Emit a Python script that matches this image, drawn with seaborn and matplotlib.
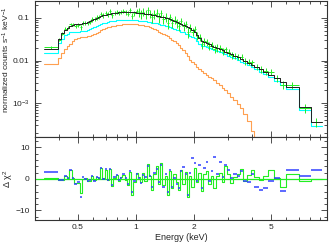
import numpy as np
import matplotlib
matplotlib.use("Agg")
import matplotlib.pyplot as plt
import seaborn as sns
from matplotlib.ticker import FixedLocator, FixedFormatter, NullFormatter, MultipleLocator

# bin edges (keV)
edges = [0.333, 0.394, 0.408, 0.423, 0.438, 0.452, 0.466, 0.48, 0.495, 0.51,
         0.525, 0.54, 0.555, 0.57, 0.586, 0.602, 0.618, 0.635, 0.652, 0.67,
         0.688, 0.706, 0.725, 0.745, 0.765, 0.785, 0.806, 0.828, 0.85, 0.873,
         0.896, 0.92, 0.945, 0.97, 0.996, 1.022, 1.05, 1.078, 1.107, 1.137,
         1.168, 1.2, 1.232, 1.265, 1.3, 1.335, 1.371, 1.408, 1.446, 1.485,
         1.525, 1.566, 1.608, 1.652, 1.697, 1.743, 1.79, 1.84, 1.89, 1.94,
         1.995, 2.05, 2.11, 2.17, 2.23, 2.3, 2.37, 2.44, 2.52, 2.6,
         2.69, 2.78, 2.88, 2.98, 3.09, 3.2, 3.33, 3.46, 3.6, 3.76,
         3.93, 4.12, 4.33, 4.57, 4.85, 5.2, 5.6, 6.0, 7.0, 8.05, 9.2]

# total model, first data set (black)
model_tot = [0.0187, 0.032, 0.044, 0.052, 0.058, 0.064, 0.068, 0.071, 0.072, 0.073,
             0.074, 0.076, 0.079, 0.084, 0.089, 0.095, 0.100, 0.105, 0.110, 0.115,
             0.119, 0.123, 0.126, 0.129, 0.131, 0.133, 0.135, 0.136, 0.137, 0.138,
             0.138, 0.137, 0.136, 0.135, 0.134, 0.133, 0.131, 0.129, 0.127, 0.125,
             0.122, 0.119, 0.116, 0.113, 0.110, 0.107, 0.104, 0.100, 0.097, 0.093,
             0.089, 0.085, 0.081, 0.077, 0.073, 0.069, 0.065, 0.061, 0.057, 0.053,
             0.048, 0.040, 0.033, 0.029, 0.027, 0.0255, 0.024, 0.0225, 0.021, 0.0197,
             0.0185, 0.0173, 0.0162, 0.0151, 0.0140, 0.0129, 0.0118, 0.0108, 0.0098, 0.0089,
             0.0080, 0.0071, 0.0063, 0.0055, 0.0047, 0.0038, 0.0031, 0.0024, 0.00081, 0.00036]

# model, second data set (cyan)
model_two = [0.0150, 0.026, 0.032, 0.040, 0.043, 0.046, 0.047, 0.048, 0.048, 0.049,
             0.049, 0.050, 0.052, 0.055, 0.058, 0.062, 0.065, 0.069, 0.072, 0.075,
             0.078, 0.081, 0.083, 0.085, 0.086, 0.088, 0.089, 0.090, 0.090, 0.091,
             0.091, 0.090, 0.090, 0.089, 0.088, 0.087, 0.086, 0.085, 0.083, 0.082,
             0.080, 0.078, 0.076, 0.074, 0.072, 0.070, 0.068, 0.066, 0.064, 0.061,
             0.058, 0.056, 0.053, 0.051, 0.048, 0.046, 0.043, 0.041, 0.038, 0.036,
             0.034, 0.029, 0.025, 0.0225, 0.0215, 0.0205, 0.0195, 0.0185, 0.0175, 0.0166,
             0.0157, 0.0148, 0.0139, 0.0130, 0.0121, 0.0112, 0.0103, 0.0094, 0.0086, 0.0078,
             0.0070, 0.0062, 0.0055, 0.0048, 0.0041, 0.0033, 0.0027, 0.0021, 0.00069, 0.000295]

# soft component (orange), first 82 bins
comp_soft = [0.0083, 0.0115, 0.0150, 0.019, 0.022, 0.025, 0.029, 0.032, 0.034, 0.035,
             0.035, 0.036, 0.037, 0.038, 0.040, 0.042, 0.045, 0.048, 0.051, 0.054,
             0.057, 0.060, 0.062, 0.064, 0.066, 0.067, 0.069, 0.070, 0.071, 0.072,
             0.072, 0.072, 0.072, 0.072, 0.071, 0.070, 0.068, 0.067, 0.065, 0.063,
             0.060, 0.058, 0.055, 0.052, 0.048, 0.045, 0.042, 0.040, 0.037, 0.034,
             0.031, 0.028, 0.026, 0.023, 0.020, 0.018, 0.015, 0.0125, 0.0105, 0.0092,
             0.0082, 0.0072, 0.0062, 0.0056, 0.0051, 0.0046, 0.0042, 0.0038, 0.0034, 0.0030,
             0.0027, 0.0023, 0.0020, 0.0017, 0.0014, 0.0012, 0.00095, 0.00075, 0.00056, 0.00038,
             0.00022, 0.00012]

# observed counts (green) and errors
data_obs = [0.0205, 0.031, 0.043, 0.056, 0.059, 0.072, 0.069, 0.066, 0.068, 0.060,
            0.075, 0.077, 0.076, 0.082, 0.093, 0.094, 0.103, 0.107, 0.126, 0.116,
            0.134, 0.121, 0.142, 0.118, 0.133, 0.140, 0.132, 0.140, 0.145, 0.136,
            0.127, 0.150, 0.112, 0.130, 0.146, 0.136, 0.125, 0.140, 0.123, 0.150,
            0.126, 0.103, 0.123, 0.133, 0.103, 0.130, 0.095, 0.105, 0.077, 0.104,
            0.077, 0.091, 0.077, 0.066, 0.083, 0.065, 0.072, 0.047, 0.059, 0.048,
            0.055, 0.038, 0.036, 0.025, 0.028, 0.0275, 0.0225, 0.023, 0.019, 0.020,
            0.0195, 0.0168, 0.0182, 0.0157, 0.0135, 0.0131, 0.0124, 0.0121, 0.0096, 0.0093,
            0.0090, 0.0072, 0.0062, 0.0057, 0.0054, 0.0039, 0.0027, 0.0027, 0.00078, 0.00036]

data_err = [0.0015, 0.003, 0.004, 0.005, 0.005, 0.006, 0.006, 0.007, 0.007, 0.007,
            0.008, 0.008, 0.008, 0.009, 0.011, 0.011, 0.012, 0.013, 0.014, 0.014,
            0.015, 0.015, 0.016, 0.016, 0.016, 0.017, 0.017, 0.017, 0.017, 0.017,
            0.017, 0.017, 0.017, 0.017, 0.018, 0.033, 0.031, 0.031, 0.030, 0.030,
            0.029, 0.028, 0.027, 0.026, 0.025, 0.025, 0.024, 0.023, 0.022, 0.021,
            0.020, 0.019, 0.018, 0.017, 0.016, 0.015, 0.014, 0.013, 0.012, 0.011,
            0.009, 0.008, 0.007, 0.006, 0.0055, 0.0052, 0.0048, 0.0045, 0.0042, 0.0039,
            0.0035, 0.0032, 0.0030, 0.0027, 0.0025, 0.0023, 0.0021, 0.0019, 0.0017, 0.0015,
            0.0015, 0.0013, 0.0011, 0.0010, 0.0009, 0.0008, 0.0006, 0.0005, 0.0002, 0.00009]

# delta chi^2 residuals
resid_one = [0.3, -0.2, -0.3, 0.9, 0.2, 2.8, 0.4, -1.4, -1.2, -4.6,
             0.1, 0.2, -0.7, -0.5, 0.9, -0.3, 0.5, 0.3, 3.4, 0.2,
             3.0, -0.4, 3.1, -2.3, 0.3, 1.2, -0.5, 0.6, 1.2, -0.3,
             -2.0, 2.2, -5.2, -1.0, 2.0, 0.5, -1.0, 1.8, -0.8, 4.6,
             0.8, -3.5, 1.5, 4.0, -1.5, 5.0, -2.0, 1.0, -5.0, 2.5,
             -3.0, 1.5, -1.0, -3.5, 3.0, -1.5, 2.2, -5.8, 1.0, -2.5,
             3.5, -1.0, 2.0, -3.8, 1.5, 2.5, -1.5, 1.0, -2.8, 0.8,
             2.0, -1.0, 4.0, 1.5, -1.2, 0.5, 1.5, 3.2, -0.8, 1.2,
             3.0, 0.5, -0.3, 0.8, 3.0, 0.3, -2.4, 1.7, -0.5, 0.1]

resid_two = [2.1, -0.3, -0.2, 1.0, 0.3, 2.8, 0.2, -1.6, -1.0, -5.8,
             0.5, 0.0, -0.8, -0.3, 1.0, -0.5, 0.6, 0.4, 3.5, 0.1,
             3.1, -0.2, 3.2, -1.9, 0.5, 1.4, -0.4, 0.3, 1.5, 0.2,
             -1.5, 2.5, -4.0, -0.5, 1.6, 0.2, -1.3, 1.2, 0.6, 4.0,
             1.0, -2.5, 2.0, 3.2, -1.0, 4.5, -2.6, 1.7, -4.2, 3.0,
             -2.4, 0.4, -1.6, -3.0, 2.4, 3.8, 1.5, -5.2, 2.0, 6.5,
             5.0, -0.5, 4.5, -3.0, 3.5, 5.5, -0.8, 2.5, 7.0, 1.6,
             5.5, 0.5, 4.5, 2.8, 0.2, 1.5, 0.8, 2.5, -0.5, -1.0,
             1.5, -2.4, -3.5, -2.8, -0.8, 0.2, -3.9, 2.8, 0.9, 3.0]

sns.set_style("ticks")
plt.rcParams['font.family'] = ['Liberation Sans', 'DejaVu Sans']
plt.rcParams['mathtext.default'] = 'regular'
plt.rcParams['font.size'] = 6.5

fig = plt.figure(figsize=(3.31, 2.43), dpi=100)
ax1 = fig.add_axes([0.106, 0.436, 0.882, 0.56])
ax2 = fig.add_axes([0.106, 0.095, 0.882, 0.341], sharex=ax1)
ax1.set_xscale('log')
ax1.set_yscale('log')

e = np.array(edges)
lo, hi = e[:-1], e[1:]
mid = np.sqrt(lo * hi)

# top panel
sns.lineplot(x=edges, y=model_two + [model_two[-1]], drawstyle='steps-post',
             color='#00ffff', lw=0.8, estimator=None, ax=ax1)
sns.lineplot(x=edges[:len(comp_soft) + 1], y=comp_soft + [comp_soft[-1]],
             drawstyle='steps-post', color='#ffa050', lw=0.8, estimator=None, ax=ax1)
ax1.errorbar(mid, data_obs, xerr=[mid - lo, hi - mid], yerr=data_err, fmt='none',
             ecolor='#22ee22', elinewidth=0.7)
sns.lineplot(x=edges, y=model_tot + [model_tot[-1]], drawstyle='steps-post',
             color='#202020', lw=0.7, estimator=None, ax=ax1)

# residuals
ax2.axhline(0, color='#22ee22', lw=0.9)
sns.lineplot(x=edges, y=resid_one + [resid_one[-1]], drawstyle='steps-post',
             color='#22ee22', lw=0.8, estimator=None, ax=ax2)
ax2.hlines(resid_two, lo, hi, color='#3040ff', lw=1.1)

ax1.set_xlim(0.3, 9.8)
ax1.set_ylim(1.6e-4, 0.25)
ax2.set_ylim(-13, 13.3)

ax2.xaxis.set_major_locator(FixedLocator([0.5, 1, 2, 5]))
ax2.xaxis.set_major_formatter(FixedFormatter(['0.5', '1', '2', '5']))
ax2.xaxis.set_minor_locator(FixedLocator([0.3, 0.4, 0.6, 0.7, 0.8, 0.9, 3, 4, 6, 7, 8, 9]))
ax2.xaxis.set_minor_formatter(NullFormatter())

ax1.yaxis.set_major_locator(FixedLocator([1e-3, 1e-2, 1e-1]))
ax1.yaxis.set_major_formatter(FixedFormatter(['10$^{-3}$', '0.01', '0.1']))
ax1.yaxis.set_minor_locator(FixedLocator([k * d for d in [1e-4, 1e-3, 1e-2, 1e-1] for k in range(2, 10)]))
ax1.yaxis.set_minor_formatter(NullFormatter())

ax2.yaxis.set_major_locator(FixedLocator([-10, 0, 10]))
ax2.yaxis.set_minor_locator(MultipleLocator(2))

for ax in (ax1, ax2):
    ax.tick_params(which='both', direction='in', top=True, right=True,
                   color='#333333', width=0.6, labelsize=6, pad=4)
    ax.tick_params(which='major', length=4)
    ax.tick_params(which='minor', length=2)
    for s in ax.spines.values():
        s.set_color('#333333')
        s.set_linewidth(0.8)
ax1.tick_params(labelbottom=False)
ax2.tick_params(axis='x', pad=3)

ax1.set_ylabel('normalized counts s$^{-1}$ keV$^{-1}$', fontsize=6)
ax2.set_ylabel('Δ χ$^{2}$', fontsize=6.5)
ax2.set_xlabel('Energy (keV)', fontsize=6.5)
ax1.yaxis.set_label_coords(-0.078, 0.57)
ax2.yaxis.set_label_coords(-0.07, 0.5)
ax2.xaxis.set_label_coords(0.5, -0.16)

fig.savefig('out.png', dpi=100)
